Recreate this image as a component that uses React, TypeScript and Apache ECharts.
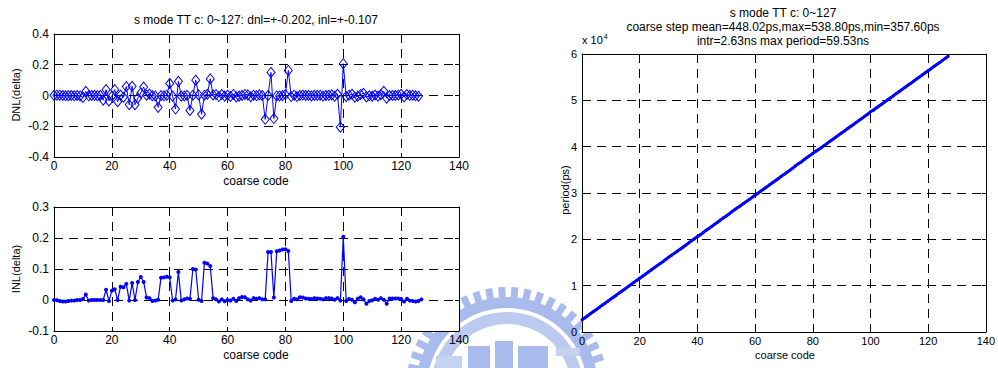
import React, { useEffect, useRef } from "react";
import * as echarts from "echarts";

// DNL per coarse code 0..126
const dnl: number[] = [
  0.001, 0.002, 0.002, 0, -0.002, -0.001, 0, -0.002, 0, -0.003,
  -0.012, 0.027, -0.002, 0, 0.001, -0.001, 0, -0.03, 0.038, -0.035,
  -0.005, 0.038, -0.04, 0.003, -0.011, 0.058, -0.06, 0.06, -0.06, -0.016,
  0.016, 0.055, 0.002, 0.009, -0.001, -0.003, -0.077, -0.001, -0.002, 0.002,
  0.078, -0.004, -0.088, 0.092, -0.004, -0.003, 0.001, -0.097, 0.002, 0.1,
  0.004, -0.122, 0.002, 0.008, 0.108, 0.004, 0.007, -0.007, 0.006, -0.004,
  0.002, -0.006, 0.007, -0.009, -0.004, 0.001, 0.007, 0.004, -0.008, 0.002,
  -0.002, 0.004, 0, -0.155, 0, 0.15, -0.15, -0.003, -0.003, -0.001,
  0.006, 0.163, -0.007, 0.002, -0.007, 0.001, 0.003, 0.001, 0.001, -0.003,
  0.001, 0.001, 0.002, -0.004, 0, 0.001, 0.004, -0.005, 0.008, -0.206,
  0.207, -0.006, 0.002, 0.008, -0.011, -0.005, 0.007, 0.014, -0.009, -0.002,
  -0.005, 0.003, -0.005, 0.005, 0.027, -0.017, 0, 0, 0, 0.002,
  0.008, -0.009, 0.006, 0.001, 0.002, -0.002, -0.005,
];

// INL per coarse code 0..127
const inl: number[] = [
  0, -0.001, -0.003, -0.005, -0.005, -0.003, -0.002, -0.002, 0, 0,
  0.003, 0.018, -0.002, 0, 0, 0, 0, 0, 0.033, -0.003,
  0.03, 0.035, 0, 0.043, 0.041, 0.052, -0.002, 0.055, 0, 0.058,
  0.074, 0.058, 0.008, 0.006, -0.003, -0.002, 0.001, 0.072, 0.073, 0.075,
  0.073, -0.002, 0.002, 0.09, -0.002, 0.002, 0.005, 0.004, 0.1, 0.098,
  0.001, -0.003, 0.12, 0.118, 0.11, 0.006, 0.002, -0.005, 0.002, -0.004,
  0, -0.002, 0.004, -0.003, 0.006, 0.01, 0.009, 0.002, -0.002, 0.006,
  0.004, 0.006, 0.002, 0.002, 0.155, 0.155, 0.008, 0.157, 0.16, 0.163,
  0.164, 0.158, -0.003, 0.004, 0.002, 0.009, 0.008, 0.005, 0.004, 0.003,
  0.006, 0.005, 0.004, 0.002, 0.006, 0.006, 0.005, 0.001, 0.006, -0.002,
  0.204, -0.003, 0.003, 0.001, -0.007, 0.004, 0.009, 0.002, -0.012, -0.003,
  -0.001, 0.004, 0.001, 0.006, 0.001, -0.012, 0.005, 0.005, 0.005, 0.005,
  0.003, -0.005, 0.004, -0.002, -0.003, -0.005, -0.003, 0.002,
];

// period (ps) per coarse code 0..127
const period: number[] = [
  2630, 3078, 3526, 3974, 4422, 4870, 5318, 5766, 6214, 6662,
  7110, 7566, 8006, 8454, 8902, 9350, 9798, 10246, 10709, 11142,
  11603, 12054, 12486, 12953, 13400, 13853, 14278, 14751, 15174, 15648,
  16103, 16544, 16970, 17417, 17862, 18310, 18758, 19238, 19686, 20136,
  20583, 20998, 21447, 21934, 22342, 22791, 23240, 23688, 24179, 24626,
  25030, 25477, 25980, 26427, 26871, 27273, 27719, 28164, 28615, 29060,
  29510, 29957, 30408, 30853, 31305, 31754, 32202, 32647, 33093, 33545,
  33992, 34441, 34887, 35335, 35851, 36299, 36682, 37196, 37646, 38095,
  38543, 38989, 39365, 39816, 40263, 40714, 41162, 41608, 42056, 42503,
  42953, 43400, 43848, 44295, 44745, 45193, 45640, 46086, 46537, 46981,
  47521, 47877, 48327, 48774, 49219, 49672, 50122, 50567, 51009, 51461,
  51910, 52360, 52806, 53257, 53702, 54145, 54600, 55048, 55496, 55944,
  56391, 56836, 57288, 57733, 58181, 58628, 59077, 59527,
];

const xTicks = { min: 0, max: 140, interval: 20 };
const dnlTicks = { min: -0.4, max: 0.4, interval: 0.2 };
const inlTicks = { min: -0.1, max: 0.3, interval: 0.1 };
const periodTicks = { min: 0, max: 60000, interval: 10000 };

const titleLeft = "s mode TT c: 0~127: dnl=+-0.202, inl=+-0.107";
const titleRight = [
  "s mode TT c: 0~127",
  "coarse step mean=448.02ps,max=538.80ps,min=357.60ps",
  "intr=2.63ns max period=59.53ns",
];

const FONT = "'Liberation Sans', Arial, Helvetica, sans-serif";
const BLUE = "#0000ff";
const WM = "#a9bbec";
const DASH = [9, 6];

const GRIDS = [
  { left: 54, top: 34, width: 405, height: 123 },
  { left: 54, top: 207, width: 405, height: 124 },
  { left: 582, top: 54, width: 405, height: 278 },
];

function fmt(v: number, d: number) {
  const r = Number(v.toFixed(d));
  return r === 0 ? "0" : String(r);
}

function xAxes(gridIndex: number, fs: number) {
  const base = {
    gridIndex,
    type: "value" as const,
    ...xTicks,
    axisLine: { show: true, onZero: false, lineStyle: { color: "#000", width: 1 } },
    axisTick: { show: true, inside: true, length: 4, lineStyle: { color: "#000" } },
  };
  return [
    {
      ...base,
      position: "bottom",
      axisLabel: { color: "#000", fontSize: fs, fontFamily: FONT, margin: 3, formatter: (v: number) => fmt(v, 0) },
      splitLine: { show: true, lineStyle: { color: "#000", width: 1, type: DASH } },
    },
    {
      ...base,
      position: "top",
      axisLabel: { show: false },
      splitLine: { show: false },
    },
  ];
}

function yAxes(gridIndex: number, t: { min: number; max: number; interval: number }, fs: number, f: (v: number) => string) {
  const base = {
    gridIndex,
    type: "value" as const,
    ...t,
    axisLine: { show: true, onZero: false, lineStyle: { color: "#000", width: 1 } },
    axisTick: { show: true, inside: true, length: 4, lineStyle: { color: "#000" } },
  };
  return [
    {
      ...base,
      position: "left",
      axisLabel: { color: "#000", fontSize: fs, fontFamily: FONT, margin: 5, formatter: f },
      splitLine: { show: true, lineStyle: { color: "#000", width: 1, type: DASH } },
    },
    {
      ...base,
      position: "right",
      axisLabel: { show: false },
      splitLine: { show: false },
    },
  ];
}

function txt(text: string, x: number, y: number, fs: number, rotate = false, align = "center") {
  return {
    type: "text",
    x,
    y,
    z: 10,
    rotation: rotate ? Math.PI / 2 : 0,
    style: {
      text,
      fill: "#000",
      font: `${fs}px ${FONT}`,
      textAlign: align,
      textVerticalAlign: "middle",
    },
  };
}

// faint emblem watermark behind the plots
function watermark() {
  const cx = 507;
  const cy = 388;
  const teeth: any[] = [];
  for (let a = -78; a <= 78; a += 7.5) {
    teeth.push({
      type: "rect",
      x: cx,
      y: cy,
      rotation: (-a * Math.PI) / 180,
      shape: { x: -3.5, y: -101, width: 7, height: 12 },
      style: { fill: WM },
      z: -10,
    });
  }
  return [
    ...teeth,
    { type: "ring", shape: { cx, cy, r: 91, r0: 80 }, style: { fill: WM }, z: -10 },
    { type: "ring", shape: { cx, cy, r: 76, r0: 64 }, style: { fill: "#bccaf0" }, z: -10 },
    { type: "rect", shape: { x: 468, y: 346, width: 22, height: 22 }, style: { fill: WM }, z: -10 },
    { type: "rect", shape: { x: 495, y: 341, width: 18, height: 27 }, style: { fill: WM }, z: -10 },
    { type: "rect", shape: { x: 518, y: 346, width: 30, height: 22 }, style: { fill: WM }, z: -10 },
    { type: "rect", shape: { x: 436, y: 356, width: 26, height: 12 }, style: { fill: "#c6d2f2" }, z: -10 },
    { type: "rect", shape: { x: 556, y: 348, width: 24, height: 8 }, style: { fill: "#c6d2f2" }, z: -10 },
    ...GRIDS.map((g) => ({
      type: "rect",
      shape: { x: g.left, y: g.top, width: g.width, height: g.height },
      style: { fill: "#fff" },
      z: -5,
    })),
  ];
}

export default function App() {
  const ref = useRef<HTMLDivElement>(null);
  useEffect(() => {
    if (!ref.current) return;
    const chart = echarts.init(ref.current, undefined, { renderer: "svg" });
    const option: any = {
      animation: false,
      backgroundColor: "#fff",
      grid: GRIDS.map((g) => ({ ...g })),
      xAxis: [...xAxes(0, 12), ...xAxes(1, 12), ...xAxes(2, 11)],
      yAxis: [
        ...yAxes(0, dnlTicks, 12, (v) => fmt(v, 1)),
        ...yAxes(1, inlTicks, 12, (v) => fmt(v, 1)),
        ...yAxes(2, periodTicks, 11, (v) => fmt(v / 10000, 0)),
      ],
      series: [
        {
          type: "line",
          xAxisIndex: 0,
          yAxisIndex: 0,
          data: dnl.map((v, i) => [i, v]),
          symbol: "diamond",
          symbolSize: [8, 10],
          lineStyle: { color: BLUE, width: 1 },
          itemStyle: { color: "rgba(0,0,0,0)", borderColor: BLUE, borderWidth: 1 },
        },
        {
          type: "line",
          xAxisIndex: 2,
          yAxisIndex: 2,
          data: inl.map((v, i) => [i, v]),
          symbol: "circle",
          symbolSize: 4,
          lineStyle: { color: BLUE, width: 1.2 },
          itemStyle: { color: BLUE },
        },
        {
          type: "line",
          xAxisIndex: 4,
          yAxisIndex: 4,
          data: period.map((v, i) => [i, v]),
          symbol: "circle",
          symbolSize: 3,
          lineStyle: { color: BLUE, width: 3 },
          itemStyle: { color: BLUE },
        },
      ],
      graphic: [
        ...watermark(),
        txt(titleLeft, 256, 20, 12),
        txt("coarse code", 256, 181, 12),
        txt("coarse code", 256, 355, 12),
        txt("DNL(delta)", 16, 95, 11, true),
        txt("INL(delta)", 16, 269, 11, true),
        txt(titleRight[0], 783, 13, 12),
        txt(titleRight[1], 783, 27, 12),
        txt(titleRight[2], 783, 41, 12),
        txt("period(ps)", 565, 190, 11, true),
        txt("coarse code", 785, 355, 11),
        {
          type: "text",
          x: 582,
          y: 40,
          z: 10,
          style: {
            text: "{a|x 10}{b|4}",
            rich: {
              a: { fontSize: 11, fontFamily: FONT, fill: "#000", color: "#000" },
              b: { fontSize: 7, fontFamily: FONT, fill: "#000", color: "#000", padding: [0, 0, 8, 1] },
            },
            textAlign: "left",
            textVerticalAlign: "middle",
          },
        },
      ],
    };
    chart.setOption(option);
    return () => chart.dispose();
  }, []);
  return (
    <div
      ref={ref}
      style={{ position: "fixed", left: 0, top: 0, width: 998, height: 368 }}
    />
  );
}
